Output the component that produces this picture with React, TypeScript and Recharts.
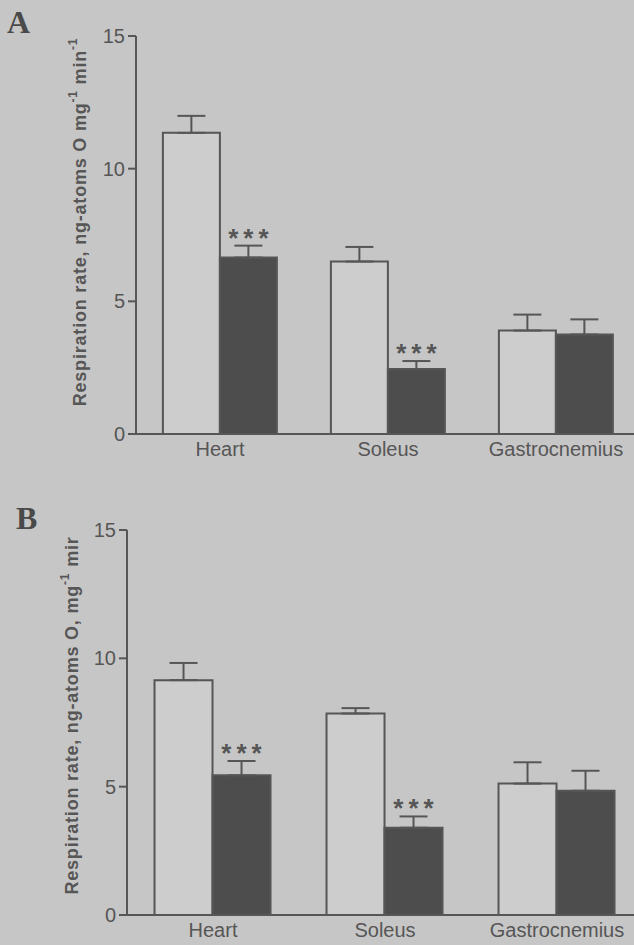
import React from 'react';
import { BarChart, Bar, XAxis, YAxis, ErrorBar, LabelList } from 'recharts';

// Muscle groups on the category axis
const categories = ['Heart', 'Soleus', 'Gastrocnemius'];
const yTicks = [0, 5, 10, 15];

// Panel A – respiration rate (control = open bars, treated = filled bars)
const controlA = [11.35, 6.5, 3.9];
const controlErrA = [0.64, 0.55, 0.6];
const treatedA = [6.65, 2.45, 3.75];
const treatedErrA = [0.45, 0.3, 0.57];
const markA = ['***', '***', ''];

// Panel B – respiration rate
const controlB = [9.15, 7.85, 5.12];
const controlErrB = [0.67, 0.21, 0.83];
const treatedB = [5.44, 3.4, 4.84];
const treatedErrB = [0.56, 0.44, 0.78];
const markB = ['***', '***', ''];

const INK = '#565656';
const PAPER = '#c6c6c6';
const OPEN_FILL = '#cdcdcd';
const SOLID_FILL = '#4d4d4d';
const SANS = '"Liberation Sans", Arial, sans-serif';
const SERIF = '"Liberation Serif", "Times New Roman", serif';

type Row = {
  name: string;
  control: number;
  controlErr: [number, number];
  treated: number;
  treatedErr: [number, number];
  mark: string;
};

function buildRows(
  control: number[],
  controlErr: number[],
  treated: number[],
  treatedErr: number[],
  mark: string[]
): Row[] {
  return categories.map((name, i) => ({
    name,
    control: control[i],
    controlErr: [0, controlErr[i]],
    treated: treated[i],
    treatedErr: [0, treatedErr[i]],
    mark: mark[i],
  }));
}

const rowsA = buildRows(controlA, controlErrA, treatedA, treatedErrA, markA);
const rowsB = buildRows(controlB, controlErrB, treatedB, treatedErrB, markB);

type TitlePart = { t: string; sup?: boolean };

const titleA: TitlePart[] = [
  { t: 'Respiration rate, ng-atoms O mg' },
  { t: '-1', sup: true },
  { t: ' min' },
  { t: '-1', sup: true },
];
const titleB: TitlePart[] = [
  { t: 'Respiration rate, ng-atoms O, mg' },
  { t: '-1', sup: true },
  { t: ' mir' },
];

function AxisTitle({ viewBox, parts, inset, shift }: any) {
  const cx = viewBox.x + viewBox.width - inset;
  const cy = viewBox.y + viewBox.height / 2 + shift;
  let raised = false;
  return (
    <text
      x={cx}
      y={cy}
      transform={`rotate(-90, ${cx}, ${cy})`}
      textAnchor="middle"
      dominantBaseline="central"
      fontFamily={SANS}
      fontWeight="bold"
      fontSize={18}
      letterSpacing={0.8}
      fill={INK}
    >
      {parts.map((p: TitlePart, i: number) => {
        let dy = 0;
        if (p.sup && !raised) dy = -7;
        if (!p.sup && raised) dy = 7;
        raised = !!p.sup;
        return (
          <tspan key={i} dy={dy} fontSize={p.sup ? 12 : 18}>
            {p.t}
          </tspan>
        );
      })}
    </text>
  );
}

// Significance stars sit just above the upper error cap of the filled bar
const makeStars = (rows: Row[]) => (props: any) => {
  const { x, y, width, height, index } = props;
  const row = rows[index];
  if (!row || !row.mark) return null;
  const perUnit = Number(height) / row.treated;
  const capY = Number(y) - row.treatedErr[1] * perUnit;
  return (
    <text
      x={Number(x) + Number(width) / 2 + 2.5}
      y={capY + 1}
      textAnchor="middle"
      fontFamily={SANS}
      fontWeight="bold"
      fontSize={26}
      letterSpacing={5}
      fill={INK}
    >
      {row.mark}
    </text>
  );
};

type PanelProps = {
  rows: Row[];
  top: number;
  height: number;
  marginTop: number;
  marginBottom: number;
  axisWidth: number;
  marginRight: number;
  title: TitlePart[];
  titleInset: number;
  titleShift: number;
};

function Panel({
  rows,
  top,
  height,
  marginTop,
  marginBottom,
  axisWidth,
  marginRight,
  title,
  titleInset,
  titleShift,
}: PanelProps) {
  return (
    <div style={{ position: 'absolute', left: 0, top, width: 634, height, overflow: 'hidden' }}>
      <BarChart
        width={650}
        height={height}
        data={rows}
        margin={{ top: marginTop, right: marginRight, bottom: marginBottom, left: 0 }}
        barCategoryGap="16%"
        barGap={0}
      >
        <XAxis
          dataKey="name"
          interval={0}
          tickLine={false}
          height={30}
          axisLine={{ stroke: INK, strokeWidth: 2 }}
          tick={{ fontSize: 20, fill: INK, fontFamily: SANS }}
        />
        <YAxis
          width={axisWidth}
          domain={[0, 15]}
          ticks={yTicks}
          interval={0}
          tickSize={8}
          tickMargin={3}
          axisLine={{ stroke: INK, strokeWidth: 2 }}
          tickLine={{ stroke: INK, strokeWidth: 2 }}
          tick={{ fontSize: 20, fill: INK, fontFamily: SANS }}
          label={(p: any) => (
            <AxisTitle viewBox={p.viewBox} parts={title} inset={titleInset} shift={titleShift} />
          )}
        />
        <Bar dataKey="control" fill={OPEN_FILL} stroke={INK} strokeWidth={2} isAnimationActive={false}>
          <ErrorBar dataKey="controlErr" direction="y" width={14} stroke={INK} strokeWidth={2} />
        </Bar>
        <Bar dataKey="treated" fill={SOLID_FILL} stroke={INK} strokeWidth={2} isAnimationActive={false}>
          <ErrorBar dataKey="treatedErr" direction="y" width={14} stroke={INK} strokeWidth={2} />
          <LabelList dataKey="mark" content={makeStars(rows)} />
        </Bar>
      </BarChart>
    </div>
  );
}

const letterStyle: React.CSSProperties = {
  position: 'absolute',
  fontFamily: SERIF,
  fontWeight: 'bold',
  fontSize: 32,
  lineHeight: '32px',
  color: '#4a4a4a',
};

export default function App() {
  return (
    <div
      style={{
        position: 'fixed',
        left: 0,
        top: 0,
        width: 634,
        height: 945,
        overflow: 'hidden',
        background: PAPER,
      }}
    >
      <Panel
        rows={rowsA}
        top={0}
        height={480}
        marginTop={36}
        marginBottom={16}
        axisWidth={136}
        marginRight={10}
        title={titleA}
        titleInset={56}
        titleShift={-13}
      />
      <Panel
        rows={rowsB}
        top={480}
        height={465}
        marginTop={50}
        marginBottom={0}
        axisWidth={127}
        marginRight={7}
        title={titleB}
        titleInset={55}
        titleShift={-7}
      />
      <div style={{ ...letterStyle, left: 7, top: 6 }}>A</div>
      <div style={{ ...letterStyle, left: 16, top: 502 }}>B</div>
    </div>
  );
}
